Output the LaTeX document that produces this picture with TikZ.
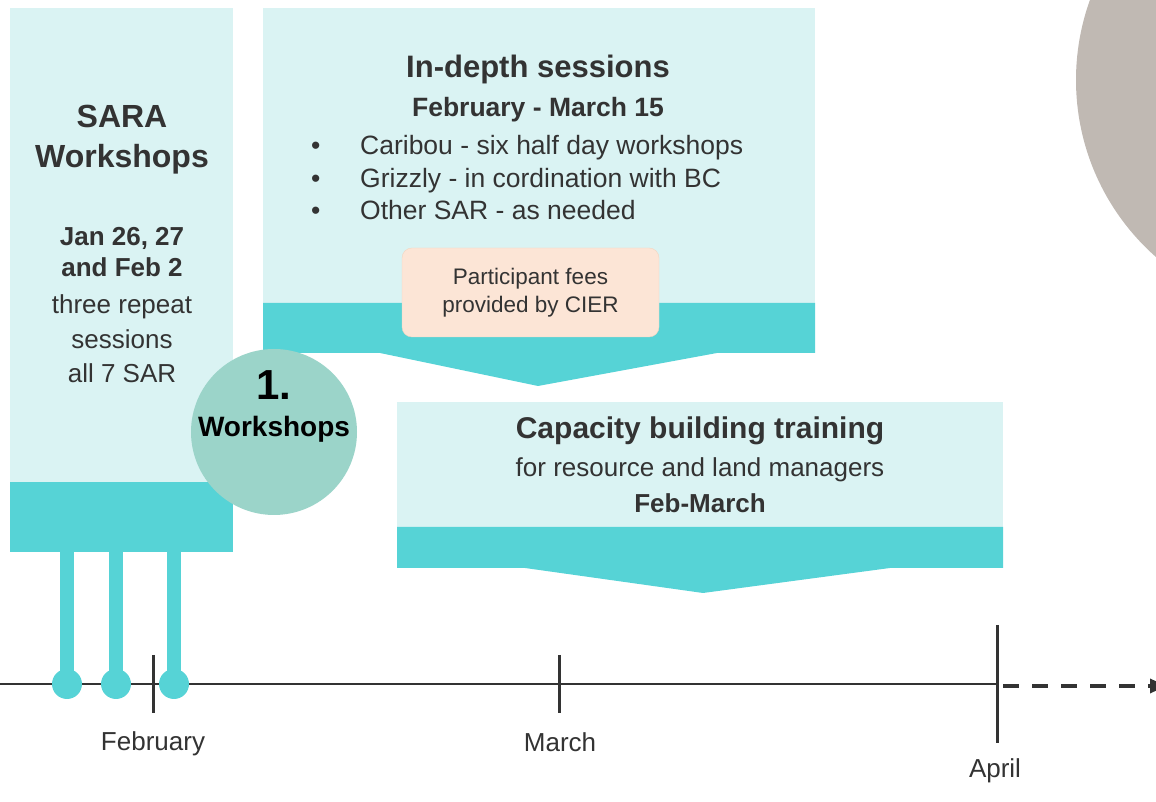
\documentclass[tikz,border=0pt]{standalone}
\usepackage{fontspec}
\setmainfont{Liberation Sans}
\usetikzlibrary{positioning, arrows.meta}

\definecolor{paleteal}{HTML}{DAF3F3}
\definecolor{bandteal}{HTML}{56D3D6}
\definecolor{mint}{HTML}{9BD4C9}
\definecolor{peach}{HTML}{FCE5D6}
\definecolor{peachline}{HTML}{F3D5C0}
\definecolor{stone}{HTML}{C0B9B3}
\definecolor{ink}{HTML}{333333}
\newcommand{\fsz}[2]{\fontsize{#1}{#2}\selectfont}

\begin{document}
\begin{tikzpicture}[x=1pt, y=1pt,
		pale/.style={fill=paleteal},
		band/.style={fill=bandteal},
		txt/.style={text=ink, align=center, inner sep=0pt},
		dot/.style={circle, fill=bandteal, minimum size=30pt, inner sep=0pt},
		stem/.style={bandteal, line width=14pt},
		tick/.style={ink, line width=3pt},
		month/.style={text=ink, font=\fsz{26}{30}, inner sep=0pt},
		fees/.style={draw=peachline, fill=peach, rounded corners=10pt, minimum width=257pt, minimum height=89pt, text=ink, font=\fsz{22.5}{28}, align=center}]
			\useasboundingbox (0,0) rectangle (1156,802);
			\begin{scope}
				\clip (0,0) rectangle (1156,802);
				\fill[stone] (1312,722) circle[radius=236pt];
			\end{scope}
			% SARA column
			\fill[pale] (10,794) rectangle (233,320);
			\fill[band] (10,320) rectangle (233,250);
			\coordinate (sarabot) at (0,252);
			\node[txt, font=\bfseries\fsz{32}{40}] (saratitle) at (122,662) {SARA\\Workshops};
			\node[txt, font=\bfseries\fsz{26}{31}] (saradates) at (122,550) {Jan 26, 27\\and Feb 2};
			\node[txt, font=\fsz{26}{34.5}] (saranote) at (122,463) {three repeat\\sessions\\all 7 SAR};
			% in-depth sessions
			\fill[pale] (263,794) rectangle (815,499);
			\fill[band] (263,499) -- (815,499) -- (815,449) -- (717,449) -- (538,416) -- (380,449) -- (263,449) -- cycle;
			\node[txt, font=\bfseries\fsz{31}{36}] (deeptitle) at (538,733) {In-depth sessions};
			\node[txt, font=\bfseries\fsz{26.5}{32}] (deepdates) at (538,692) {February - March 15};
			\node[txt, align=left, anchor=west, font=\fsz{26.5}{32.5}] (deeplist) at (311,624)
				{\makebox[49pt][l]{•}Caribou - six half day workshops\\
				 \makebox[49pt][l]{•}Grizzly - in cordination with BC\\
				 \makebox[49pt][l]{•}Other SAR - as needed};
			\node[fees] (feebox) at (530.5,509.5) {Participant fees\\provided by CIER};
			% capacity building
			\fill[pale] (397,400) rectangle (1003,275);
			\fill[band] (397,275) -- (1003,275) -- (1003,234) -- (890,234) -- (703,209) -- (525,234) -- (397,234) -- cycle;
			\node[txt, font=\bfseries\fsz{30}{36}] (captitle) at (700,371) {Capacity building training};
			\node[txt, font=\fsz{26}{32}] (capwho) at (700,332) {for resource and land managers};
			\node[txt, font=\bfseries\fsz{26}{32}] (capwhen) at (700,299) {Feb-March};
			% badge
			\node[circle, fill=mint, minimum size=166pt, inner sep=0pt] (badge) at (274,370) {};
			\node[inner sep=0pt, font=\bfseries\fsz{42}{42}] (badgenum) at (274,417) {1.};
			\node[inner sep=0pt, font=\bfseries\fsz{28}{32}] (badgetxt) at (274,373) {Workshops};
			% timeline
			\coordinate (tstart) at (0,118);
			\coordinate (tapril) at (997,118);
			\coordinate (dashstart) at (1003,116);
			\coordinate (tend) at (1166,116);
			\draw[ink, line width=2.5pt] (tstart) -- (tapril);
			\draw[ink, line width=3.5pt, dash pattern=on 16pt off 13pt, -{Triangle[length=16pt, width=14pt]}] (dashstart) -- (tend);
			\draw[tick] (153,147) -- (153,89);
			\draw[tick] (559,147) -- (559,89);
			\draw[tick] (997,177) -- (997,59);
			\node[month] (feb) at (153,58) {February};
			\node[month] (mar) at (560,60) {March};
			\node[month] (apr) at (995,31) {April};
			% session markers
			\node[dot] (d1) at (67,118) {};
			\node[dot] (d2) at (116,118) {};
			\node[dot] (d3) at (174,118) {};
			\draw[stem] (d1.center) -- (d1.center |- sarabot);
			\draw[stem] (d2.center) -- (d2.center |- sarabot);
			\draw[stem] (d3.center) -- (d3.center |- sarabot);
		\end{tikzpicture}
\end{document}
